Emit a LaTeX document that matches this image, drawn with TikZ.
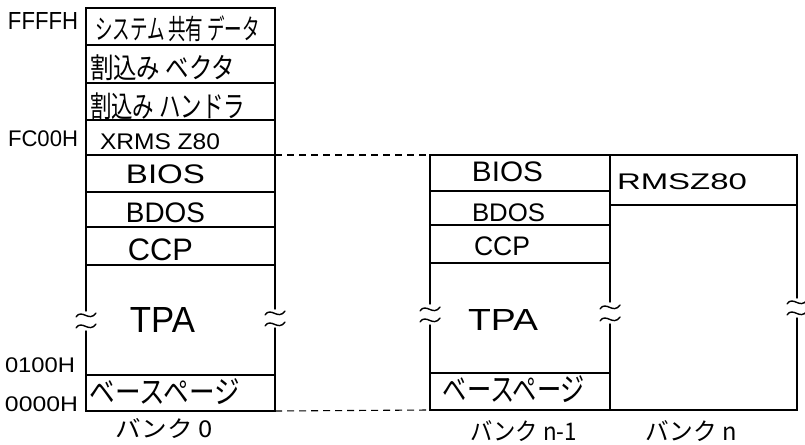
\documentclass[tikz,border=0pt]{standalone}
\usepackage{graphicx}
\usepackage{fontspec}
\setmainfont{Liberation Sans}
\newfontfamily\jp{Noto Sans CJK JP}
\newcommand\fitbox[3]{\resizebox*{#1bp}{#2bp}{#3}}
\tikzset{
  txt/.style={inner sep=0pt, outer sep=0pt},
  memline/.style={line width=1.4bp, line cap=round},
  linkline/.style={line width=1.1bp, dash pattern=on 7bp off 5bp},
  pics/brkwave/.style={code={\draw[line width=1.4bp, line cap=round] (-10,2) .. controls (-4,-7) and (3,8) .. (10,-2);}}
}
\begin{document}
\begin{tikzpicture}[x=1bp,y=-1bp]
\useasboundingbox (0,0) rectangle (805,445);
% ---------- bank 0 ----------
\coordinate (b0tl) at (86,8);
\coordinate (b0tr) at (275,8);
\coordinate (b0bl) at (86,411);
\coordinate (b0br) at (275,411);
\coordinate (b0biosr) at (275,155);
\draw[memline] (86,311) -- (b0tl) -- (b0tr) -- (275,309);
\draw[memline] (86,331) -- (b0bl) -- (b0br) -- (275,328);
\foreach \y in {45,83,120,155,192,227,265,375}
  \draw[memline] (86,\y) -- (275,\y);
\pic at (86,315) {brkwave};
\pic at (86,326) {brkwave};
\pic at (275,313) {brkwave};
\pic at (275,324) {brkwave};
% ---------- bank n-1 ----------
\coordinate (b1tl) at (430,155);
\coordinate (b1tr) at (610,155);
\coordinate (b1bl) at (430,410);
\coordinate (b1br) at (610,410);
\draw[memline] (430,304) -- (b1tl) -- (b1tr) -- (610,302);
\draw[memline] (430,325) -- (b1bl) -- (b1br);
\draw[memline] (610,324) -- (b1br);
\foreach \y in {191,225,263,373}
  \draw[memline] (430,\y) -- (610,\y);
\pic at (430,309) {brkwave};
\pic at (430,320) {brkwave};
\pic at (610,307) {brkwave};
\pic at (610,319) {brkwave};
% ---------- bank n ----------
\coordinate (b2tr) at (797,155);
\coordinate (b2br) at (797,410);
\draw[memline] (b1tr) -- (b2tr) -- (797,298);
\draw[memline] (b1br) -- (b2br) -- (797,318);
\draw[memline] (610,205) -- (797,205);
\pic at (797,302) {brkwave};
\pic at (797,313) {brkwave};
% ---------- dashed links ----------
\draw[linkline] (b0biosr) -- (b1tl);
\draw[linkline] (b0br) -- (b1bl);
% ---------- address labels ----------
\node[txt, anchor=west] (aFFFF) at (8,21) {\fitbox{70}{17}{FFFFH}};
\node[txt, anchor=west] (aFC00) at (8,139) {\fitbox{70}{16}{FC00H}};
\node[txt, anchor=west] (a0100) at (5,365) {\fitbox{70}{15}{0100H}};
\node[txt, anchor=west] (a0000) at (5,404) {\fitbox{73}{15}{0000H}};
% ---------- bank 0 texts ----------
\node[txt, anchor=west] (sys) at (95,29) {\fitbox{165}{26}{\jp システム 共有 データ}};
\node[txt, anchor=west] (vec) at (90,68) {\fitbox{145}{26}{\jp 割込み ベクタ}};
\node[txt, anchor=west] (hdl) at (90,106) {\fitbox{155}{27}{\jp 割込み ハンドラ}};
\node[txt, anchor=west] (xrms) at (100,142) {\fitbox{120}{16}{XRMS Z80}};
\node[txt] (bios0) at (165.5,174) {\fitbox{79}{19}{BIOS}};
\node[txt] (bdos0) at (165.5,213) {\fitbox{79}{20}{BDOS}};
\node[txt] (ccp0) at (160.5,250) {\fitbox{65}{22}{CCP}};
\node[txt] (tpa0) at (162.5,320) {\fitbox{65}{25}{TPA}};
\node[txt] (base0) at (165,392) {\fitbox{150}{26}{\jp ベースページ}};
\node[txt] (bank0) at (164,429) {\fitbox{98}{20}{\jp バンク 0}};
% ---------- bank n-1 texts ----------
\node[txt] (bios1) at (507.5,172) {\fitbox{71}{20}{BIOS}};
\node[txt] (bdos1) at (508.5,213) {\fitbox{73}{18}{BDOS}};
\node[txt] (ccp1) at (502,246) {\fitbox{56}{19}{CCP}};
\node[txt] (tpa1) at (503,320) {\fitbox{70}{21}{TPA}};
\node[txt] (base1) at (514,389) {\fitbox{142}{27}{\jp ベースページ}};
\node[txt] (bank1) at (523.5,431) {\fitbox{107}{21}{\jp バンク n-1}};
% ---------- bank n texts ----------
\node[txt] (rms) at (682,182) {\fitbox{130}{16}{RMSZ80}};
\node[txt] (bank2) at (691,431) {\fitbox{92}{21}{\jp バンク n}};
\end{tikzpicture}
\end{document}
